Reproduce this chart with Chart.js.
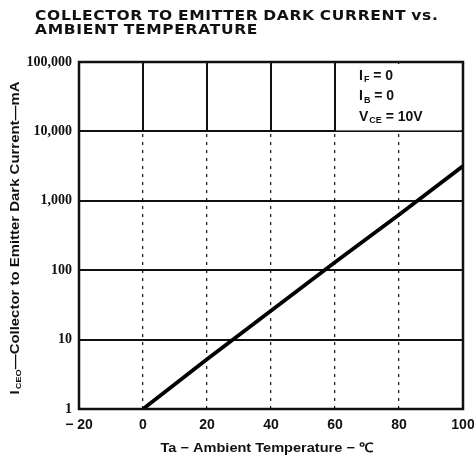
<!DOCTYPE html>
<html>
<head>
<meta charset="utf-8">
<script src="https://cdn.jsdelivr.net/npm/chart.js@4"></script>
<style>
  body { margin: 0; background: #fff; }
  #wrap { position: relative; width: 474px; height: 461px; }
  #chart { position: absolute; left: 0; top: 0; }
  #title {
    position: absolute; left: 35px; top: 8px;
    font: bold 14px "DejaVu Sans", sans-serif; line-height: 14px;
    letter-spacing: 0.6px; word-spacing: -1px; color: #111; white-space: nowrap;
  }
  #title span { display: inline-block; transform-origin: left center; }
</style>
</head>
<body>
<div id="wrap">
  <canvas id="chart" width="474" height="461"></canvas>
  <div id="title">
    <span id="t1">COLLECTOR TO EMITTER DARK CURRENT vs.</span><br>
    <span id="t2">AMBIENT TEMPERATURE</span>
  </div>
</div>
<script>
// values
const temps = [0, 20, 40, 60, 80, 100];
const darkCurrent = [1, 5.2, 26, 130, 630, 3160];
const xTicks = [-20, 0, 20, 40, 60, 80, 100];
const yTicks = [1, 10, 100, 1000, 10000, 100000];
const yTickLabels = ['1', '10', '100', '1,000', '10,000', '100,000'];
const conditions = [['I', 'F', ' = 0'], ['I', 'B', ' = 0'], ['V', 'CE', ' = 10V']];
const xTitle = 'Ta \u2212 Ambient Temperature \u2212 \u2103';
const yTitle = ['I', 'CEO', '\u2014Collector to Emitter Dark Current\u2014mA'];

// widen the heading to the width used in the original
(function () {
  const t1 = document.getElementById('t1');
  const t2 = document.getElementById('t2');
  const k = 403 / t1.offsetWidth;
  t1.style.transform = 'scaleX(' + k + ')';
  t2.style.transform = 'scaleX(' + k + ')';
})();

// text with a subscript part: [main, sub, rest]
function drawSub(ctx, parts, x, y, size, family) {
  ctx.font = 'bold ' + size + 'px ' + family;
  ctx.fillText(parts[0], x, y);
  x += ctx.measureText(parts[0]).width + 1;
  ctx.font = 'bold ' + Math.round(size * 0.62) + 'px ' + family;
  ctx.fillText(parts[1], x, y + size * 0.28);
  x += ctx.measureText(parts[1]).width;
  ctx.font = 'bold ' + size + 'px ' + family;
  ctx.fillText(parts[2], x, y);
  return x + ctx.measureText(parts[2]).width;
}

function subWidth(ctx, parts, size, family) {
  ctx.font = 'bold ' + size + 'px ' + family;
  let w = ctx.measureText(parts[0] + parts[2]).width + 1;
  ctx.font = 'bold ' + Math.round(size * 0.62) + 'px ' + family;
  return w + ctx.measureText(parts[1]).width;
}

const decor = {
  id: 'decor',
  beforeDatasetsDraw(c) {
    const { ctx, scales: { x, y } } = c;
    const yTop = y.getPixelForValue(100000);
    const yDec = y.getPixelForValue(10000);
    ctx.save();
    // top decade has solid verticals
    ctx.strokeStyle = '#111';
    ctx.lineWidth = 2;
    [0, 20, 40, 60].forEach(v => {
      const px = x.getPixelForValue(v);
      ctx.beginPath();
      ctx.moveTo(px, yTop);
      ctx.lineTo(px, yDec);
      ctx.stroke();
    });
    // conditions box
    const bx = x.getPixelForValue(60);
    const bx2 = x.getPixelForValue(100);
    ctx.fillStyle = '#fff';
    ctx.fillRect(bx + 1, yTop + 2, bx2 - bx - 3, yDec - yTop - 3);
    ctx.fillStyle = '#111';
    ctx.textBaseline = 'middle';
    conditions.forEach((p, i) => {
      drawSub(ctx, p, bx + 24, yTop + 14 + i * 20.5, 14, '"Liberation Sans"');
    });
    ctx.restore();
  },
  afterDraw(c) {
    const { ctx, chartArea: a } = c;
    const fam = '"Liberation Sans"';
    ctx.save();
    ctx.strokeStyle = '#111';
    ctx.lineWidth = 2.5;
    ctx.strokeRect(a.left, a.top, a.right - a.left, a.bottom - a.top);

    ctx.fillStyle = '#111';
    ctx.textBaseline = 'middle';
    ctx.textAlign = 'left';

    // x title, stretched to the original length
    ctx.save();
    ctx.font = 'bold 13px ' + fam;
    const xw = ctx.measureText(xTitle).width;
    ctx.translate(267, 448);
    ctx.scale(213 / xw, 1);
    ctx.fillText(xTitle, -xw / 2, 0);
    ctx.restore();

    // rotated y title
    ctx.translate(15, 238);
    ctx.rotate(-Math.PI / 2);
    const yw = subWidth(ctx, yTitle, 13, fam);
    ctx.scale(313 / yw, 1);
    drawSub(ctx, yTitle, -yw / 2, 0, 13, fam);
    ctx.restore();
  }
};

new Chart(document.getElementById('chart'), {
  type: 'line',
  data: {
    datasets: [{
      data: temps.map((t, i) => ({ x: t, y: darkCurrent[i] })),
      borderColor: '#000',
      borderWidth: 3.8,
      pointRadius: 0,
      tension: 0
    }]
  },
  options: {
    responsive: false,
    animation: false,
    layout: { padding: { left: 0, right: 11, top: 62, bottom: 0 } },
    plugins: { legend: { display: false }, tooltip: { enabled: false } },
    scales: {
      x: {
        type: 'linear',
        min: -20,
        max: 100,
        afterBuildTicks: s => { s.ticks = xTicks.map(v => ({ value: v })); },
        afterFit: s => { s.height = 52; s.paddingLeft = 0; s.paddingRight = 0; },
        grid: { color: '#222', lineWidth: 1.3, drawTicks: false },
        border: { display: false, dash: [3, 5] },
        ticks: {
          padding: 8,
          color: '#111',
          font: { family: 'Liberation Sans', weight: 'bold', size: 14 },
          callback: v => v < 0 ? '\u2212 ' + (-v) : String(v)
        }
      },
      y: {
        type: 'logarithmic',
        min: 1,
        max: 100000,
        afterBuildTicks: s => { s.ticks = yTicks.map(v => ({ value: v })); },
        afterFit: s => { s.width = 79; s.paddingTop = 0; s.paddingBottom = 0; },
        grid: { color: '#111', lineWidth: 2, drawTicks: false },
        border: { display: false },
        ticks: {
          padding: 7,
          color: '#111',
          font: { family: 'Liberation Serif', weight: 'bold', size: 14 },
          callback: v => yTickLabels[yTicks.indexOf(v)]
        }
      }
    }
  },
  plugins: [decor]
});
</script>
</body>
</html>
